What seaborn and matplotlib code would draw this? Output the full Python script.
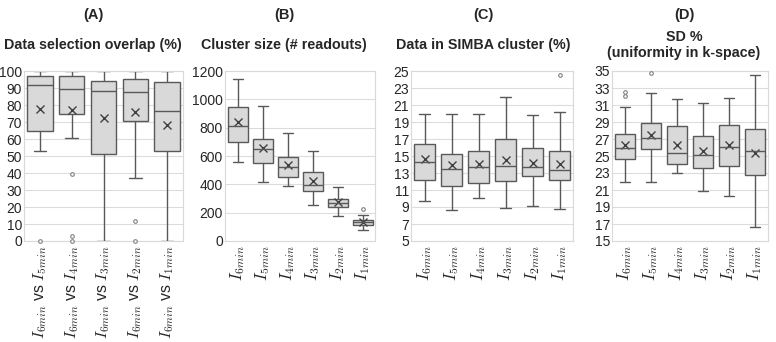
import numpy as np
import pandas as pd
import matplotlib
matplotlib.use("Agg")
import matplotlib.pyplot as plt
import seaborn as sns

# categories
cats = ["6", "5", "4", "3", "2", "1"]
pair_cats = ["5", "4", "3", "2", "1"]

# (A) data selection overlap (%)  -- lower whisker, q1, median, q3, upper whisker, mean
a_lo = [52.8, 60.4, 0, 36.8, 0]
a_q1 = [64.6, 74.6, 51.4, 70.5, 53.1]
a_med = [91.5, 89.2, 88.0, 87.6, 76.4]
a_q3 = [97.0, 97.0, 94.3, 95.3, 93.7]
a_hi = [100, 100, 100, 100, 100]
a_mean = [77.4, 76.8, 72.4, 75.8, 68.5]
a_out_cat = ["5", "4", "4", "4", "2", "2"]
a_out_val = [0, 39.4, 3, 0, 11.8, 0]

# (B) cluster size (# readouts)
b_lo = [560, 420, 385, 257, 177, 80]
b_q1 = [697, 550, 449, 350, 241, 116]
b_med = [815, 650, 520, 397, 265, 132]
b_q3 = [943, 723, 591, 489, 300, 149]
b_hi = [1146, 952, 761, 635, 378, 187]
b_mean = [839, 657, 536, 423, 272, 132]
b_out_cat = ["1"]
b_out_val = [227]

# (C) data in SIMBA cluster (%)
c_lo = [9.7, 8.7, 10.1, 8.9, 9.1, 8.8]
c_q1 = [12.2, 11.5, 11.8, 12.05, 12.6, 12.2]
c_med = [14.25, 13.5, 13.7, 13.8, 13.7, 13.4]
c_q3 = [16.4, 15.2, 15.55, 17.0, 15.9, 15.6]
c_hi = [19.9, 20.0, 20.0, 22.0, 19.8, 20.2]
c_mean = [14.6, 13.9, 14.1, 14.5, 14.2, 14.1]
c_out_cat = ["1"]
c_out_val = [24.5]

# (D) SD % (uniformity in k-space)
d_lo = [21.9, 22.0, 23.0, 20.9, 20.3, 16.7]
d_q1 = [24.6, 25.8, 24.05, 23.6, 23.8, 22.75]
d_med = [26.0, 27.1, 25.3, 25.1, 26.1, 25.55]
d_q3 = [27.6, 28.9, 28.5, 27.4, 28.6, 28.2]
d_hi = [30.75, 32.4, 31.7, 31.2, 31.8, 34.5]
d_mean = [26.3, 27.5, 26.3, 25.6, 26.3, 25.4]
d_out_cat = ["6", "6", "5"]
d_out_val = [32.5, 32.1, 34.8]

single_labels = [f"$I_{{{c}min}}$" for c in cats]
pair_labels = [f"$I_{{6min}}$ vs $I_{{{c}min}}$" for c in pair_cats]

sns.set_style("whitegrid")
plt.rcParams["font.family"] = ["Liberation Sans", "DejaVu Sans"]
plt.rcParams["mathtext.fontset"] = "cm"

fig = plt.figure(figsize=(7.76, 3.42), dpi=100)

panels = [
    ("(A)", "Data selection overlap (%)", pair_cats, pair_labels,
     a_lo, a_q1, a_med, a_q3, a_hi, a_mean, a_out_cat, a_out_val,
     (0, 100), np.arange(0, 101, 10), [24, 183], 93, 11.5),
    ("(B)", "Cluster size (# readouts)", cats, single_labels,
     b_lo, b_q1, b_med, b_q3, b_hi, b_mean, b_out_cat, b_out_val,
     (0, 1200), np.arange(0, 1201, 200), [225, 375], 284, 12),
    ("(C)", "Data in SIMBA cluster (%)", cats, single_labels,
     c_lo, c_q1, c_med, c_q3, c_hi, c_mean, c_out_cat, c_out_val,
     (5, 25), np.arange(5, 26, 2), [411, 573], 483, 12),
    ("(D)", "SD %\n(uniformity in k-space)", cats, single_labels,
     d_lo, d_q1, d_med, d_q3, d_hi, d_mean, d_out_cat, d_out_val,
     (15, 35), np.arange(15, 36, 2), [612, 768], 684, 12),
]

W, H = 776, 342
for (tag, title, order, labels, lo, q1, med, q3, hi, mean, ocat, oval,
     ylim, yticks, xspan, tx, xfs) in panels:
    ax = fig.add_axes([xspan[0] / W, 1 - 241 / H, (xspan[1] - xspan[0]) / W, 170 / H])

    # five-number rows per category -> whiskers at min/max, quartiles exact
    rows = []
    for i, c in enumerate(order):
        for v in (lo[i], q1[i], med[i], q3[i], hi[i]):
            rows.append((c, v))
    df = pd.DataFrame(rows, columns=["cat", "val"])
    sns.boxplot(data=df, x="cat", y="val", order=order, whis=(0, 100),
                showfliers=False, color="#d9d9d9", saturation=1,
                linecolor="#595959", linewidth=1, width=0.8, ax=ax)

    mdf = pd.DataFrame({"cat": order, "mean": mean})
    sns.pointplot(data=mdf, x="cat", y="mean", order=order, linestyle="none",
                  marker="x", color="#404040", markersize=6, markeredgewidth=1,
                  errorbar=None, ax=ax)

    odf = pd.DataFrame({"cat": ocat, "val": oval})
    sns.stripplot(data=odf, x="cat", y="val", order=order, jitter=False, size=2.6,
                  color="white", edgecolor="#808080", linewidth=0.8,
                  clip_on=False, zorder=5, ax=ax)

    ax.set_xlim(-0.5, len(order) - 0.5)
    ax.set_ylim(*ylim)
    ax.set_yticks(yticks)
    ax.set_xticks(range(len(order)))
    ax.set_xticklabels(labels, rotation=90, fontsize=xfs)
    ax.tick_params(axis="y", labelsize=10, length=0, pad=1.5)
    ax.tick_params(axis="x", length=0, pad=3)
    ax.set_xlabel("")
    ax.set_ylabel("")
    ax.xaxis.grid(False)
    ax.yaxis.grid(True, color="#dcdcdc", linewidth=0.8)
    for s in ax.spines.values():
        s.set_color("#d9d9d9")
        s.set_linewidth(0.8)

    fig.text(tx / W, 1 - 15 / H, tag, ha="center", va="center",
             fontsize=10.5, fontweight="bold")
    fig.text(tx / W, 1 - 45 / H, title, ha="center", va="center",
             fontsize=10.3, fontweight="bold", linespacing=1.15)

fig.savefig("out.png", dpi=100)
